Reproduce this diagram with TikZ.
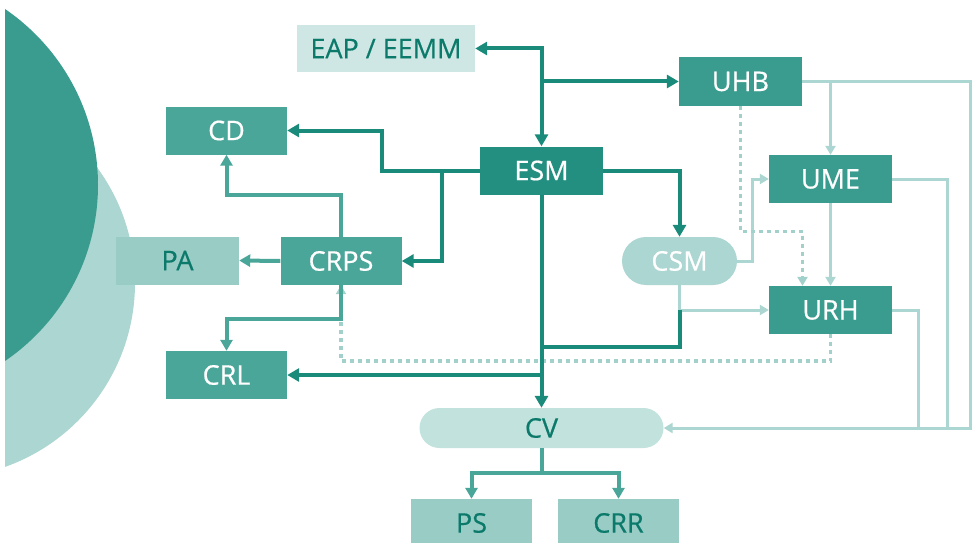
\documentclass[tikz,border=0pt]{standalone}
\usepackage{fontspec}
\setmainfont{Open Sans}
\newfontfamily\labelfont{Open Sans}[FakeBold=0.6]
\usetikzlibrary{arrows.meta}

\definecolor{esmgreen}{HTML}{238F80}
\definecolor{unitgreen}{HTML}{3A9C8F}
\definecolor{boxgreen}{HTML}{4BA69A}
\definecolor{palegreen}{HTML}{99CCC5}
\definecolor{mintgreen}{HTML}{ACD6D1}
\definecolor{dotgreen}{HTML}{A2D1CB}
\definecolor{foggreen}{HTML}{C2E2DD}
\definecolor{mistgreen}{HTML}{CFE7E4}
\definecolor{inkgreen}{HTML}{0B7A6B}
\definecolor{linegreen}{HTML}{1A8A7B}

\begin{document}
\begin{tikzpicture}
        [
            x=1pt, y=-1pt,
            every node/.style={font=\labelfont\fontsize{27}{30}\selectfont, inner sep=0pt},
            block/.style={rectangle, minimum width=123pt, minimum height=48pt},
            hub/.style={block, fill=esmgreen, text=white},
            unit/.style={block, fill=unitgreen, text=white},
            branch/.style={block, fill=boxgreen, minimum width=121pt, text=white},
            leaf/.style={block, fill=palegreen, minimum width=121pt, text=inkgreen},
            topbox/.style={block, fill=mistgreen, minimum width=178pt, minimum height=47pt, text=inkgreen},
            pill/.style={rectangle, rounded corners=24pt, minimum width=115pt, minimum height=48pt, fill=mintgreen, text=white},
            longpill/.style={rectangle, rounded corners=20pt, minimum width=244pt, minimum height=40pt, fill=foggreen, text=inkgreen},
            strong/.style={draw=linegreen, line width=4pt, >={Triangle[length=12pt,width=13pt]}},
            mid/.style={draw=boxgreen, line width=4pt, >={Triangle[length=11pt,width=12pt]}},
            soft/.style={draw=mintgreen, line width=3pt, >={Triangle[length=9pt,width=10pt]}},
            dots/.style={soft, draw=dotgreen, line width=3.5pt, dash pattern=on 4pt off 4pt},
        ]
        \useasboundingbox (0,0) rectangle (972,543);
        \begin{scope}
            \clip (5,0) rectangle (972,543);
            \fill[mintgreen] (-60,283) circle[radius=195];
            \fill[unitgreen] (-115,185) circle[radius=213];
        \end{scope}

        \node[topbox] (eap) at (386,48.5) {EAP / EEMM};
        \node[hub] (esm) at (541.5,170.5) {ESM};
        \node[unit] (uhb) at (740.5,81.5) {UHB};
        \node[unit] (ume) at (830.5,179) {UME};
        \node[unit] (urh) at (830.5,310) {URH};
        \node[pill] (csm) at (679.5,261) {CSM};
        \node[branch] (cd) at (226.5,130.5) {CD};
        \node[branch] (crps) at (341,261) {CRPS};
        \node[branch] (crl) at (226.5,375) {CRL};
        \node[leaf, minimum width=123pt] (pa) at (177.5,260.5) {PA};
        \node[longpill] (cv) at (541.5,428) {CV};
        \node[leaf] (ps) at (471.5,523) {PS};
        \node[leaf] (crr) at (618.5,523) {CRR};

        \draw[soft,->] (csm.south) |- (urh.west);
        \draw[soft,->] (csm.east) -- ++(15,0) |- (ume.west);
        \draw[soft,->] (uhb.east) -- ++(168,0) |- (cv.east);
        \draw[soft,->] (ume.north |- uhb.east) -- (ume.north);
        \draw[soft,->] (ume.south) -- (urh.north);
        \draw[soft] (ume.east) -- ++(55,0) -- ++(0,249);
        \draw[soft] (urh.east) -- ++(26,0) -- ++(0,118);
        \draw[dots,->] (uhb.south) -- ++(0,126) -| ([xshift=-28pt]urh.north);
        \draw[dots,->] (urh.south) -- ++(0,27) -| (crps.south);

        \draw[strong,<->] (eap.east) -| (esm.north);
        \draw[strong,->] (esm.north |- uhb.west) -- (uhb.west);
        \draw[strong,->] (esm.west) -- ++(-98,0) |- (cd.east);
        \draw[strong,->] (esm.west) ++(-38,0) |- (crps.east);
        \draw[strong,->] (esm.east) -| (csm.north);
        \draw[strong,->] (esm.south) -- (cv.north);
        \draw[strong,->] (esm.south |- crl.east) -- (crl.east);
        \draw[strong] (csm.south) ++(0,25) -- ++(0,37) -- ++(-138,0);

        \draw[mid,->] (crps.north) -- ++(0,-42) -| (cd.south);
        \draw[mid,->] (crps.west) -- (pa.east);
        \draw[mid,->] (crps.south) -- ++(0,34) -| (crl.north);
        \draw[mid,->] (cv.south) -- ++(0,25) -| (ps.north);
        \draw[mid,->] (cv.south) ++(0,25) -| (crr.north);
\end{tikzpicture}
\end{document}
